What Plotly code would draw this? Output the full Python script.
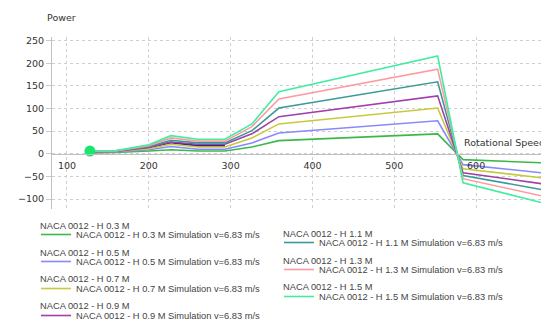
import plotly.graph_objects as go

# ---- data ----
rpm = [128, 160, 200, 227, 260, 293, 326, 359, 553, 584, 680]
p_h03 = [2, 3, 6, 9, 6, 6, 15, 29, 44, -13, -20]
p_h05 = [3, 4, 9, 16, 10, 10, 24, 46, 73, -24, -42]
p_h07 = [4, 5, 11, 21, 15, 15, 35, 66, 101, -33, -53]
p_h09 = [4, 5, 14, 26, 21, 21, 44, 82, 128, -42, -66]
p_h11 = [5, 6, 16, 30, 24, 24, 51, 101, 159, -48, -79]
p_h13 = [5, 6, 18, 35, 28, 28, 60, 121, 187, -55, -93]
p_h15 = [6, 7, 20, 40, 32, 32, 66, 137, 216, -64, -108]
rpm_extra = [128, 160, 200, 227, 260, 293]
p_extra = [4, 6, 14, 25, 18, 18]

heights = ["0.3", "0.5", "0.7", "0.9", "1.1", "1.3", "1.5"]
series = [p_h03, p_h05, p_h07, p_h09, p_h11, p_h13, p_h15]
colors = ["#3cb84a", "#8888ff", "#c8c83c", "#a040a8", "#3a9a9a", "#ff9aa0", "#40eea0"]
x_ticks = [100, 200, 300, 400, 500, 600]
y_ticks = [-100, -50, 0, 50, 100, 150, 200, 250]

XR = [81.7, 679.3]
YR = [-122, 258]
W, H = 541, 320
ML, MR, MT, MB = 52, 0, 37, 111
plot_h = H - MT - MB
plot_w = W - ML - MR

FONT = "DejaVu Sans"
LFONT = "Liberation Sans"

fig = go.Figure()

fig.add_trace(go.Scatter(x=rpm_extra, y=p_extra, mode="lines",
                         line=dict(color="#2a2a7a", width=2), showlegend=False,
                         hoverinfo="skip"))

for i, (h, ys, c) in enumerate(zip(heights, series, colors)):
    fig.add_trace(go.Scatter(
        x=rpm, y=ys, mode="lines",
        line=dict(color=c, width=1.6),
        name=f"NACA 0012 - H {h} M Simulation v=6.83 m/s",
        legendgroup=f"g{i}",
        legend="legend" if i < 4 else "legend2",
    ))

# start marker on the last series
fig.add_trace(go.Scatter(x=rpm[:1], y=p_h15[:1], mode="markers",
                         marker=dict(color="#19e66e", size=11),
                         showlegend=False))

annotations = []
# legend short-name labels
row_gap = 26.7
for i, h in enumerate(heights):
    if i < 4:
        xs, y0, r = 38 - ML, 226, i
    else:
        xs, y0, r = 281 - ML, 234, i - 4
    annotations.append(dict(
        text=f"NACA 0012 - H {h} M", x=0, y=0, xref="paper", yref="paper",
        xanchor="left", yanchor="middle", xshift=xs,
        yshift=-(y0 + r * row_gap - (MT + plot_h)), showarrow=False,
        font=dict(family=LFONT, size=9.3, color="#444")))

annotations.append(dict(text="Power", x=0, y=1, xref="paper", yref="paper",
                        xanchor="left", yanchor="middle", xshift=45 - ML,
                        yshift=(MT - 17), showarrow=False,
                        font=dict(family=FONT, size=9.5, color="#333")))
annotations.append(dict(text="Rotational Speed", x=(462 - ML) / plot_w, y=0,
                        xref="paper", yref="y", xanchor="left", yanchor="middle",
                        yshift=11, showarrow=False,
                        font=dict(family=FONT, size=9.5, color="#333")))

grid = dict(showgrid=True, gridcolor="#cfcfcf", griddash="dot", gridwidth=1)

fig.update_layout(
    width=W, height=H,
    margin=dict(l=ML, r=MR, t=MT, b=MB, pad=0, autoexpand=False),
    paper_bgcolor="white", plot_bgcolor="white",
    xaxis=dict(range=XR, tickvals=x_ticks, anchor="free",
               position=(0 - YR[0]) / (YR[1] - YR[0]),
               showline=True, linecolor="#c0c0c0", linewidth=1,
               ticks="outside", ticklen=3, tickcolor="rgba(0,0,0,0)",
               zeroline=False, automargin=False,
               tickfont=dict(family=FONT, size=9.5, color="#333"), **grid),
    yaxis=dict(range=YR, tickvals=y_ticks, showline=True, linecolor="#c0c0c0",
               linewidth=1, ticks="outside", ticklen=5, tickcolor="#c8c8c8",
               zeroline=False, automargin=False,
               tickfont=dict(family=FONT, size=9.5, color="#333"), **grid),
    legend=dict(x=(36 - ML) / plot_w, y=-(228 - 8 - (MT + plot_h)) / plot_h,
                xanchor="left", yanchor="top", traceorder="grouped",
                tracegroupgap=8, itemwidth=30, bgcolor="rgba(0,0,0,0)",
                font=dict(family=LFONT, size=9.3, color="#444")),
    legend2=dict(x=(279 - ML) / plot_w, y=-(236 - 8 - (MT + plot_h)) / plot_h,
                 xanchor="left", yanchor="top", traceorder="grouped",
                 tracegroupgap=8, itemwidth=30, bgcolor="rgba(0,0,0,0)",
                 font=dict(family=LFONT, size=9.3, color="#444")),
    annotations=annotations,
    showlegend=True,
)

fig.write_html("out.html", config={"displayModeBar": False},
               post_script="document.body.style.margin='0';document.body.style.overflow='hidden';")
